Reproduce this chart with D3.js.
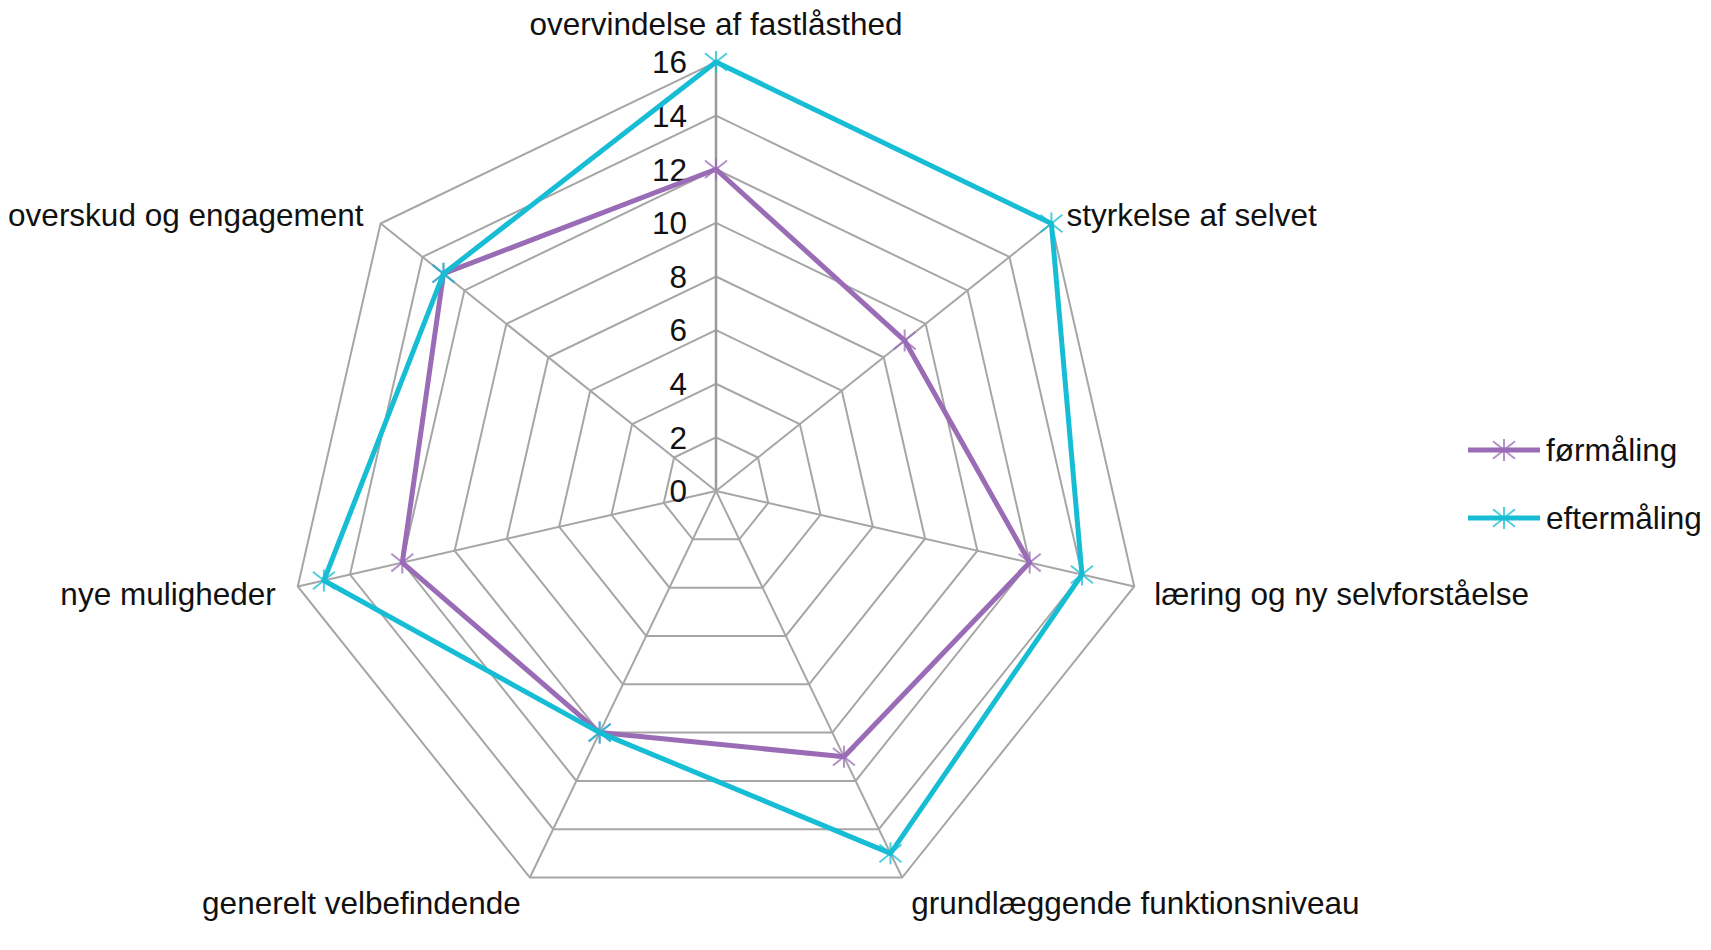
<!DOCTYPE html>
<html>
<head>
<meta charset="utf-8">
<script src="https://cdn.jsdelivr.net/npm/d3@7"></script>
<style>
  html, body { margin: 0; padding: 0; background: #fff; }
  svg { display: block; font-family: "Liberation Sans", Arial, sans-serif; }
</style>
</head>
<body>
<svg id="chart" width="1711" height="950"></svg>
<script>
const categories = [
    'overvindelse af fastlåsthed',
    'styrkelse af selvet',
    'læring og ny selvforståelse',
    'grundlæggende funktionsniveau',
    'generelt velbefindende',
    'nye muligheder',
    'overskud og engagement'
];
const formaaling = [12, 9, 12, 11, 10, 12, 13];
const eftermaaling = [16, 16, 14, 15, 10, 15, 13];
const tickValues = [0, 2, 4, 6, 8, 10, 12, 14, 16];
const seriesNames = ['førmåling', 'eftermåling'];
const seriesColors = ['#9b6cb6', '#16bdd4'];

const svg = d3.select('#chart');
const cx = 716, cy = 491, R = 429;
const fontSize = 31.5;

const r = d3.scaleLinear().domain([0, 16]).range([0, R]);
const angle = d3.scaleLinear().domain([0, categories.length]).range([0, 2 * Math.PI]);

function pt(i, v) {
    const a = angle(i);
    return [cx + r(v) * Math.sin(a), cy - r(v) * Math.cos(a)];
}

const grid = svg.append('g');

// rings
tickValues.filter(t => t > 0).forEach(t => {
    grid.append('path')
        .attr('d', d3.line()(categories.map((c, i) => pt(i, t))) + 'Z')
        .attr('fill', 'none')
        .attr('stroke', '#a6a6a6')
        .attr('stroke-width', 2);
});

// spokes
categories.forEach((c, i) => {
    const [x, y] = pt(i, 16);
    grid.append('line')
        .attr('x1', cx).attr('y1', cy)
        .attr('x2', x).attr('y2', y)
        .attr('stroke', i === 0 ? '#9a9a9a' : '#a6a6a6')
        .attr('stroke-width', i === 0 ? 2.5 : 2);
});

// tick labels
grid.selectAll('text.tick')
    .data(tickValues)
    .join('text')
    .attr('class', 'tick')
    .attr('x', cx - 29)
    .attr('y', d => cy - r(d))
    .attr('dy', '0.36em')
    .attr('text-anchor', 'end')
    .attr('font-size', fontSize)
    .attr('fill', '#111')
    .text(d => d);

// category labels, placed around the outer vertex depending on its direction
function labelOffset(i) {
    const a = angle(i);
    const s = Math.sin(a), c = Math.cos(a);
    let dy, dx = 0;
    if (c > 0.9) { dy = -27; }
    else if (c > 0) { dy = 2; dx = s > 0 ? 15 : -17; }
    else if (c > -0.5) { dy = 19; dx = s > 0 ? 20 : -22; }
    else { dy = 36; dx = s > 0 ? 9 : -9; }
    return [dx, dy, Math.abs(s) < 0.1 ? 'middle' : (s > 0 ? 'start' : 'end')];
}

categories.forEach((c, i) => {
    const [x, y] = pt(i, 16);
    const [dx, dy, anchor] = labelOffset(i);
    svg.append('text')
        .attr('x', x + dx)
        .attr('y', y + dy)
        .attr('text-anchor', anchor)
        .attr('font-size', fontSize)
        .attr('fill', '#111')
        .text(c);
});

function starMarker(g, x, y, color) {
    const h = 11;
    g.append('path')
        .attr('d', `M${x - h},${y - h * 0.8}L${x + h},${y + h * 0.8}M${x - h},${y + h * 0.8}L${x + h},${y - h * 0.8}M${x},${y - h}L${x},${y + h}`)
        .attr('stroke', color)
        .attr('stroke-opacity', 0.75)
        .attr('stroke-width', 2)
        .attr('fill', 'none');
}

// series
[formaaling, eftermaaling].forEach((vals, k) => {
    const g = svg.append('g');
    const pts = vals.map((v, i) => pt(i, v));
    g.append('path')
        .attr('d', d3.line()(pts) + 'Z')
        .attr('fill', 'none')
        .attr('stroke', seriesColors[k])
        .attr('stroke-width', 5)
        .attr('stroke-linejoin', 'round');
    pts.forEach(p => starMarker(g, p[0], p[1], seriesColors[k]));
});

// legend
const legend = svg.append('g');
seriesNames.forEach((name, k) => {
    const y = 450 + k * 68;
    legend.append('line')
        .attr('x1', 1468).attr('x2', 1540)
        .attr('y1', y).attr('y2', y)
        .attr('stroke', seriesColors[k])
        .attr('stroke-width', 5);
    starMarker(legend, 1504, y, seriesColors[k]);
    legend.append('text')
        .attr('x', 1546)
        .attr('y', y)
        .attr('dy', '0.36em')
        .attr('font-size', fontSize)
        .attr('fill', '#111')
        .text(name);
});
</script>
</body>
</html>
